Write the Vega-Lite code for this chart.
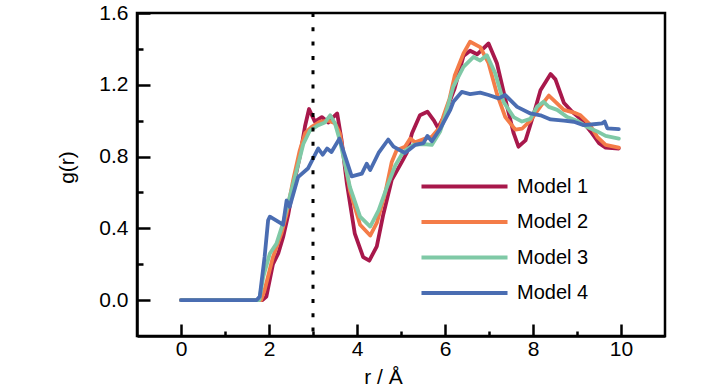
{
  "$schema": "https://vega.github.io/schema/vega-lite/v6.json",
  "width": 528,
  "height": 323,
  "autosize": "none",
  "padding": {"left": 137, "top": 13, "right": 63, "bottom": 54},
  "config": {"view": {"stroke": "black", "strokeWidth": 2.5}, "font": "Liberation Sans"},
  "layer": [
    {
      "data": {"values": [
        {"model": "Model 1", "r": 0, "g": 0}, {"model": "Model 1", "r": 1.85, "g": 0}, {"model": "Model 1", "r": 1.94, "g": 0.02}, {"model": "Model 1", "r": 2.09, "g": 0.2}, {"model": "Model 1", "r": 2.21, "g": 0.26}, {"model": "Model 1", "r": 2.32, "g": 0.35}, {"model": "Model 1", "r": 2.44, "g": 0.48}, {"model": "Model 1", "r": 2.55, "g": 0.63}, {"model": "Model 1", "r": 2.7, "g": 0.8}, {"model": "Model 1", "r": 2.82, "g": 0.97}, {"model": "Model 1", "r": 2.91, "g": 1.065}, {"model": "Model 1", "r": 3.04, "g": 0.995}, {"model": "Model 1", "r": 3.2, "g": 1.02}, {"model": "Model 1", "r": 3.35, "g": 0.99}, {"model": "Model 1", "r": 3.46, "g": 1.02}, {"model": "Model 1", "r": 3.55, "g": 1.04}, {"model": "Model 1", "r": 3.65, "g": 0.89}, {"model": "Model 1", "r": 3.77, "g": 0.65}, {"model": "Model 1", "r": 3.95, "g": 0.37}, {"model": "Model 1", "r": 4.14, "g": 0.24}, {"model": "Model 1", "r": 4.28, "g": 0.22}, {"model": "Model 1", "r": 4.45, "g": 0.3}, {"model": "Model 1", "r": 4.6, "g": 0.48}, {"model": "Model 1", "r": 4.79, "g": 0.67}, {"model": "Model 1", "r": 5.02, "g": 0.77}, {"model": "Model 1", "r": 5.13, "g": 0.82}, {"model": "Model 1", "r": 5.25, "g": 0.93}, {"model": "Model 1", "r": 5.43, "g": 1.03}, {"model": "Model 1", "r": 5.6, "g": 1.05}, {"model": "Model 1", "r": 5.75, "g": 1.0}, {"model": "Model 1", "r": 5.84, "g": 0.96}, {"model": "Model 1", "r": 5.97, "g": 1.02}, {"model": "Model 1", "r": 6.22, "g": 1.18}, {"model": "Model 1", "r": 6.42, "g": 1.36}, {"model": "Model 1", "r": 6.57, "g": 1.39}, {"model": "Model 1", "r": 6.73, "g": 1.37}, {"model": "Model 1", "r": 6.99, "g": 1.43}, {"model": "Model 1", "r": 7.18, "g": 1.32}, {"model": "Model 1", "r": 7.41, "g": 1.08}, {"model": "Model 1", "r": 7.56, "g": 0.93}, {"model": "Model 1", "r": 7.67, "g": 0.855}, {"model": "Model 1", "r": 7.83, "g": 0.89}, {"model": "Model 1", "r": 8.02, "g": 1.04}, {"model": "Model 1", "r": 8.17, "g": 1.17}, {"model": "Model 1", "r": 8.4, "g": 1.26}, {"model": "Model 1", "r": 8.51, "g": 1.23}, {"model": "Model 1", "r": 8.7, "g": 1.1}, {"model": "Model 1", "r": 8.89, "g": 1.05}, {"model": "Model 1", "r": 9.08, "g": 1.01}, {"model": "Model 1", "r": 9.31, "g": 0.94}, {"model": "Model 1", "r": 9.5, "g": 0.875}, {"model": "Model 1", "r": 9.65, "g": 0.85}, {"model": "Model 1", "r": 9.95, "g": 0.845},
        {"model": "Model 2", "r": 0, "g": 0}, {"model": "Model 2", "r": 1.82, "g": 0}, {"model": "Model 2", "r": 1.9, "g": 0.056}, {"model": "Model 2", "r": 2.09, "g": 0.24}, {"model": "Model 2", "r": 2.28, "g": 0.37}, {"model": "Model 2", "r": 2.4, "g": 0.48}, {"model": "Model 2", "r": 2.55, "g": 0.67}, {"model": "Model 2", "r": 2.7, "g": 0.835}, {"model": "Model 2", "r": 2.82, "g": 0.93}, {"model": "Model 2", "r": 2.97, "g": 0.965}, {"model": "Model 2", "r": 3.16, "g": 0.995}, {"model": "Model 2", "r": 3.35, "g": 1.0}, {"model": "Model 2", "r": 3.5, "g": 0.985}, {"model": "Model 2", "r": 3.61, "g": 0.93}, {"model": "Model 2", "r": 3.84, "g": 0.61}, {"model": "Model 2", "r": 4.07, "g": 0.42}, {"model": "Model 2", "r": 4.3, "g": 0.36}, {"model": "Model 2", "r": 4.45, "g": 0.43}, {"model": "Model 2", "r": 4.64, "g": 0.595}, {"model": "Model 2", "r": 4.79, "g": 0.77}, {"model": "Model 2", "r": 4.9, "g": 0.835}, {"model": "Model 2", "r": 5.09, "g": 0.855}, {"model": "Model 2", "r": 5.21, "g": 0.9}, {"model": "Model 2", "r": 5.32, "g": 0.88}, {"model": "Model 2", "r": 5.55, "g": 0.9}, {"model": "Model 2", "r": 5.7, "g": 0.91}, {"model": "Model 2", "r": 5.89, "g": 0.965}, {"model": "Model 2", "r": 5.97, "g": 1.03}, {"model": "Model 2", "r": 6.1, "g": 1.12}, {"model": "Model 2", "r": 6.22, "g": 1.25}, {"model": "Model 2", "r": 6.42, "g": 1.375}, {"model": "Model 2", "r": 6.57, "g": 1.44}, {"model": "Model 2", "r": 6.8, "g": 1.41}, {"model": "Model 2", "r": 6.99, "g": 1.32}, {"model": "Model 2", "r": 7.18, "g": 1.15}, {"model": "Model 2", "r": 7.37, "g": 1.02}, {"model": "Model 2", "r": 7.6, "g": 0.95}, {"model": "Model 2", "r": 7.75, "g": 0.955}, {"model": "Model 2", "r": 7.94, "g": 1.0}, {"model": "Model 2", "r": 8.17, "g": 1.08}, {"model": "Model 2", "r": 8.36, "g": 1.14}, {"model": "Model 2", "r": 8.51, "g": 1.105}, {"model": "Model 2", "r": 8.7, "g": 1.06}, {"model": "Model 2", "r": 8.93, "g": 1.045}, {"model": "Model 2", "r": 9.08, "g": 1.03}, {"model": "Model 2", "r": 9.27, "g": 0.985}, {"model": "Model 2", "r": 9.46, "g": 0.91}, {"model": "Model 2", "r": 9.65, "g": 0.865}, {"model": "Model 2", "r": 9.95, "g": 0.85},
        {"model": "Model 3", "r": 0, "g": 0}, {"model": "Model 3", "r": 1.78, "g": 0}, {"model": "Model 3", "r": 1.87, "g": 0.13}, {"model": "Model 3", "r": 2.02, "g": 0.26}, {"model": "Model 3", "r": 2.17, "g": 0.315}, {"model": "Model 3", "r": 2.32, "g": 0.43}, {"model": "Model 3", "r": 2.47, "g": 0.575}, {"model": "Model 3", "r": 2.63, "g": 0.725}, {"model": "Model 3", "r": 2.78, "g": 0.87}, {"model": "Model 3", "r": 2.93, "g": 0.945}, {"model": "Model 3", "r": 3.12, "g": 0.975}, {"model": "Model 3", "r": 3.27, "g": 0.99}, {"model": "Model 3", "r": 3.39, "g": 1.03}, {"model": "Model 3", "r": 3.5, "g": 0.985}, {"model": "Model 3", "r": 3.61, "g": 0.89}, {"model": "Model 3", "r": 3.84, "g": 0.63}, {"model": "Model 3", "r": 4.07, "g": 0.465}, {"model": "Model 3", "r": 4.3, "g": 0.41}, {"model": "Model 3", "r": 4.49, "g": 0.5}, {"model": "Model 3", "r": 4.68, "g": 0.63}, {"model": "Model 3", "r": 4.87, "g": 0.75}, {"model": "Model 3", "r": 5.05, "g": 0.825}, {"model": "Model 3", "r": 5.28, "g": 0.865}, {"model": "Model 3", "r": 5.51, "g": 0.87}, {"model": "Model 3", "r": 5.7, "g": 0.865}, {"model": "Model 3", "r": 5.89, "g": 0.94}, {"model": "Model 3", "r": 5.97, "g": 1.0}, {"model": "Model 3", "r": 6.19, "g": 1.19}, {"model": "Model 3", "r": 6.42, "g": 1.3}, {"model": "Model 3", "r": 6.65, "g": 1.355}, {"model": "Model 3", "r": 6.8, "g": 1.335}, {"model": "Model 3", "r": 6.95, "g": 1.365}, {"model": "Model 3", "r": 7.14, "g": 1.265}, {"model": "Model 3", "r": 7.33, "g": 1.105}, {"model": "Model 3", "r": 7.56, "g": 1.02}, {"model": "Model 3", "r": 7.75, "g": 0.995}, {"model": "Model 3", "r": 7.94, "g": 1.01}, {"model": "Model 3", "r": 8.09, "g": 1.077}, {"model": "Model 3", "r": 8.24, "g": 1.105}, {"model": "Model 3", "r": 8.36, "g": 1.077}, {"model": "Model 3", "r": 8.55, "g": 1.06}, {"model": "Model 3", "r": 8.78, "g": 1.02}, {"model": "Model 3", "r": 9.0, "g": 1.0}, {"model": "Model 3", "r": 9.23, "g": 0.965}, {"model": "Model 3", "r": 9.46, "g": 0.94}, {"model": "Model 3", "r": 9.65, "g": 0.915}, {"model": "Model 3", "r": 9.95, "g": 0.9},
        {"model": "Model 4", "r": 0, "g": 0}, {"model": "Model 4", "r": 1.72, "g": 0}, {"model": "Model 4", "r": 1.79, "g": 0.02}, {"model": "Model 4", "r": 1.9, "g": 0.24}, {"model": "Model 4", "r": 1.98, "g": 0.445}, {"model": "Model 4", "r": 2.02, "g": 0.465}, {"model": "Model 4", "r": 2.32, "g": 0.42}, {"model": "Model 4", "r": 2.4, "g": 0.555}, {"model": "Model 4", "r": 2.47, "g": 0.52}, {"model": "Model 4", "r": 2.66, "g": 0.685}, {"model": "Model 4", "r": 2.89, "g": 0.735}, {"model": "Model 4", "r": 3.12, "g": 0.845}, {"model": "Model 4", "r": 3.22, "g": 0.81}, {"model": "Model 4", "r": 3.32, "g": 0.845}, {"model": "Model 4", "r": 3.42, "g": 0.825}, {"model": "Model 4", "r": 3.6, "g": 0.9}, {"model": "Model 4", "r": 3.88, "g": 0.69}, {"model": "Model 4", "r": 4.11, "g": 0.705}, {"model": "Model 4", "r": 4.22, "g": 0.76}, {"model": "Model 4", "r": 4.3, "g": 0.725}, {"model": "Model 4", "r": 4.49, "g": 0.82}, {"model": "Model 4", "r": 4.71, "g": 0.895}, {"model": "Model 4", "r": 4.83, "g": 0.855}, {"model": "Model 4", "r": 5.09, "g": 0.82}, {"model": "Model 4", "r": 5.32, "g": 0.865}, {"model": "Model 4", "r": 5.51, "g": 0.875}, {"model": "Model 4", "r": 5.6, "g": 0.915}, {"model": "Model 4", "r": 5.7, "g": 0.885}, {"model": "Model 4", "r": 5.89, "g": 0.955}, {"model": "Model 4", "r": 6.12, "g": 1.06}, {"model": "Model 4", "r": 6.19, "g": 1.105}, {"model": "Model 4", "r": 6.38, "g": 1.16}, {"model": "Model 4", "r": 6.57, "g": 1.148}, {"model": "Model 4", "r": 6.8, "g": 1.156}, {"model": "Model 4", "r": 6.99, "g": 1.143}, {"model": "Model 4", "r": 7.22, "g": 1.124}, {"model": "Model 4", "r": 7.37, "g": 1.143}, {"model": "Model 4", "r": 7.64, "g": 1.077}, {"model": "Model 4", "r": 7.94, "g": 1.04}, {"model": "Model 4", "r": 8.17, "g": 1.03}, {"model": "Model 4", "r": 8.4, "g": 1.007}, {"model": "Model 4", "r": 8.7, "g": 1.0}, {"model": "Model 4", "r": 8.93, "g": 0.994}, {"model": "Model 4", "r": 9.15, "g": 0.975}, {"model": "Model 4", "r": 9.38, "g": 0.98}, {"model": "Model 4", "r": 9.57, "g": 0.985}, {"model": "Model 4", "r": 9.63, "g": 0.995}, {"model": "Model 4", "r": 9.69, "g": 0.957}, {"model": "Model 4", "r": 9.95, "g": 0.953}
      ]},
      "mark": {"type": "line", "strokeWidth": 3.8, "strokeJoin": "round", "strokeCap": "round"},
      "encoding": {
        "x": {
          "field": "r", "type": "quantitative",
          "scale": {"domain": [-1, 11], "nice": false, "zero": false},
          "axis": {
            "values": [0, 1, 2, 3, 4, 5, 6, 7, 8, 9, 10],
            "labelExpr": "datum.value % 2 == 0 ? datum.label : ''",
            "tickSize": {"condition": {"test": "datum.value % 2 == 0", "value": -12}, "value": -5},
            "tickWidth": 2.5, "tickColor": "black",
            "domainColor": "black", "domainWidth": 2.5,
            "grid": false, "labelFlush": false, "labelOverlap": false,
            "labelFontSize": 21, "labelColor": "black", "labelPadding": 14,
            "title": "r / Å", "titleFontSize": 21, "titleFontWeight": "normal", "titleColor": "black", "titlePadding": 0, "titleX": 246
          }
        },
        "y": {
          "field": "g", "type": "quantitative",
          "scale": {"domain": [-0.2, 1.6], "nice": false, "zero": false},
          "axis": {
            "values": [0, 0.2, 0.4, 0.6, 0.8, 1.0, 1.2, 1.4, 1.6],
            "labelExpr": "round(datum.value*10) % 4 == 0 ? format(datum.value, '.1f') : ''",
            "tickSize": {"condition": {"test": "round(datum.value*10) % 4 == 0", "value": -13}, "value": -6},
            "tickWidth": 2.5, "tickColor": "black",
            "domainColor": "black", "domainWidth": 2.5,
            "grid": false, "labelFlush": false, "labelOverlap": false,
            "labelFontSize": 21, "labelColor": "black", "labelPadding": 22,
            "title": "g(r)", "titleFontSize": 21, "titleFontWeight": "normal", "titleColor": "black", "titlePadding": 21, "titleY": 154
          }
        },
        "color": {
          "field": "model", "type": "nominal",
          "scale": {"domain": ["Model 1", "Model 2", "Model 3", "Model 4"], "range": ["#a8184b", "#f47c48", "#7fc9a6", "#4a6db2"]},
          "legend": {
            "orient": "none", "legendX": 282, "legendY": 161, "title": null,
            "symbolType": "stroke", "symbolSize": 7400, "symbolStrokeWidth": 4,
            "clipHeight": 25, "rowPadding": 10.5, "padding": 0,
            "labelFontSize": 20, "labelColor": "black", "labelOffset": 7
          }
        }
      }
    },
    {
      "data": {"values": [{"r": 3}]},
      "mark": {"type": "rule", "strokeDash": [4, 10.3], "strokeWidth": 3, "color": "black"},
      "encoding": {"x": {"field": "r", "type": "quantitative"}}
    }
  ]
}
